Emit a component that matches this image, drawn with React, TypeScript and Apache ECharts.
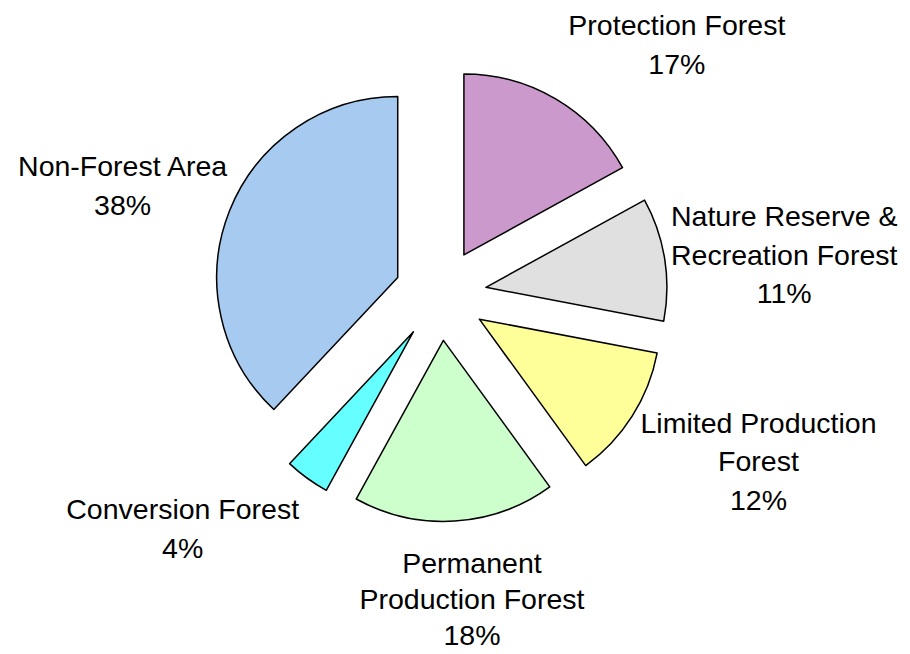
import React, { useEffect, useRef } from 'react';
import * as echarts from 'echarts';

const categories = [
  'Protection Forest',
  'Nature Reserve &\nRecreation Forest',
  'Limited Production\nForest',
  'Permanent\nProduction Forest',
  'Conversion Forest',
  'Non-Forest Area',
];
const shares = [17, 11, 12, 18, 4, 38];
const colors = ['#CC99CC', '#E0E0E0', '#FFFF99', '#CCFFCC', '#66FFFF', '#A6CAF0'];

// label placement: angle shift (deg) from the slice bisector and distance from pie centre
const labelAngleShift = [12.8, 2.4, -4.75, -2.3, 11.8, -2.7];
const labelDistance = [344, 346, 359, 306, 348, 336];
const labelLineHeight = [38.5, 38.5, 38.5, 36, 38.5, 38.5];

const CX = 440.5;
const CY = 294.5;
const R = 181;
const EXPLODE = 46;

export default function App() {
  const ref = useRef<HTMLDivElement>(null);
  useEffect(() => {
    if (!ref.current) return;
    const chart = echarts.init(ref.current, undefined, { renderer: 'svg' });
    const total = shares.reduce((a, b) => a + b, 0);
    const font = {
      fontFamily: '"Liberation Sans", Arial, sans-serif',
      fontSize: 28.5,
      color: '#000',
    };
    chart.setOption({
      animation: false,
      backgroundColor: '#fff',
      series: [
        {
          type: 'pie',
          center: [CX, CY],
          radius: [0, R],
          startAngle: 90,
          clockwise: true,
          selectedMode: 'multiple',
          selectedOffset: EXPLODE,
          silent: true,
          emphasis: { disabled: true, scale: false },
          label: { show: false },
          labelLine: { show: false },
          itemStyle: { borderColor: '#000', borderWidth: 1.5 },
          data: categories.map((c, i) => ({
            name: c,
            value: shares[i],
            selected: true,
            itemStyle: { color: colors[i] },
          })),
        },
        {
          type: 'pie',
          center: [CX, CY],
          radius: [0, R],
          startAngle: 90,
          clockwise: true,
          silent: true,
          avoidLabelOverlap: false,
          emphasis: { disabled: true, scale: false },
          itemStyle: { color: 'transparent', borderWidth: 0 },
          labelLine: { show: false },
          label: {
            show: true,
            position: 'outside',
            ...font,
            formatter: (p: any) => `${p.name}\n${shares[p.dataIndex]}%`,
          },
          labelLayout: (p: any) => {
            const i = p.dataIndex;
            const before = shares.slice(0, i).reduce((a, b) => a + b, 0);
            const mid = ((before + shares[i] / 2) / total) * 360 + labelAngleShift[i];
            const rad = (mid * Math.PI) / 180;
            return {
              x: CX + labelDistance[i] * Math.sin(rad),
              y: CY - labelDistance[i] * Math.cos(rad),
              align: 'center',
              verticalAlign: 'middle',
            };
          },
          data: categories.map((c, i) => ({
            name: c,
            value: shares[i],
            label: { lineHeight: labelLineHeight[i] },
          })),
        },
      ],
    });
    return () => chart.dispose();
  }, []);
  return (
    <div
      ref={ref}
      style={{ position: 'absolute', left: 0, top: 0, width: 910, height: 654, background: '#fff' }}
    />
  );
}
